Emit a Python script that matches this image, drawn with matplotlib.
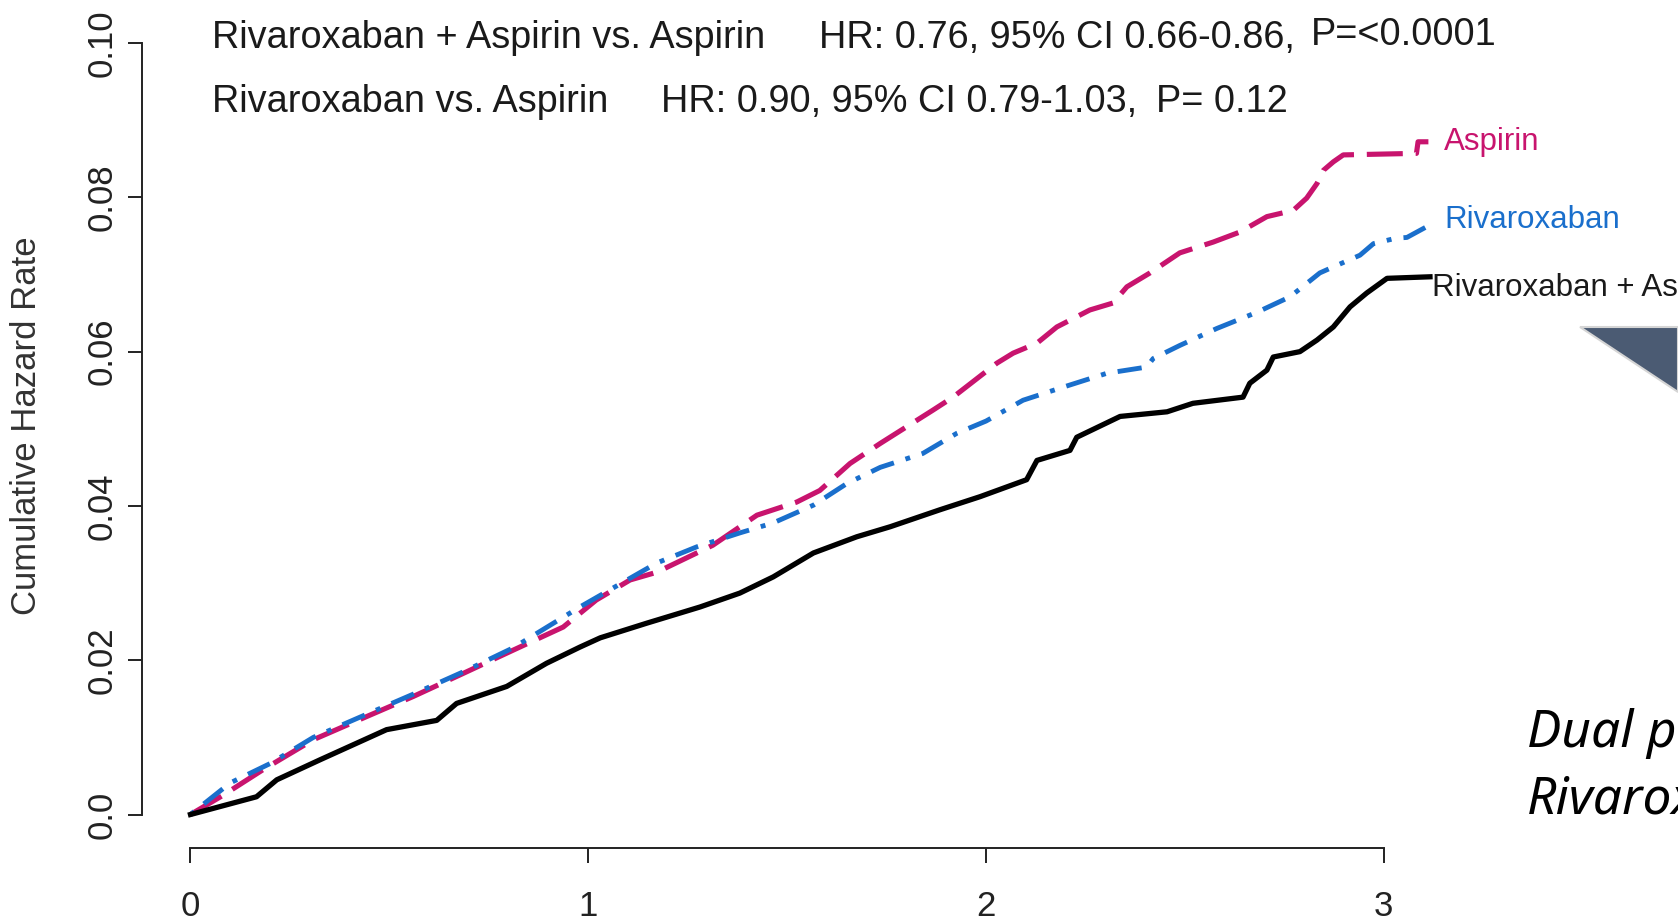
import matplotlib
matplotlib.use("Agg")
import matplotlib.pyplot as plt
from matplotlib.patches import Polygon

# Cumulative hazard curves (years, rate)
asp_x = [0, 0.082, 0.182, 0.309, 0.443, 0.56, 0.686, 0.811, 0.937, 1.02, 1.105, 1.172,
         1.313, 1.424, 1.524, 1.582, 1.658, 1.734, 1.866, 1.917, 2.027, 2.068, 2.128,
         2.178, 2.261, 2.319, 2.354, 2.412, 2.487, 2.571, 2.638, 2.706, 2.772, 2.806,
         2.832, 2.848, 2.873, 2.898, 3.082, 3.086, 3.112]
asp_y = [0, 0.0025, 0.0058, 0.0097, 0.0127, 0.0153, 0.0183, 0.0213, 0.0243, 0.0278,
         0.0304, 0.0314, 0.0349, 0.0388, 0.0405, 0.042, 0.0455, 0.0481, 0.0524, 0.0541,
         0.0585, 0.0598, 0.0611, 0.0632, 0.0654, 0.0663, 0.0684, 0.0702, 0.0728, 0.0742,
         0.0755, 0.0775, 0.0783, 0.0799, 0.0818, 0.0835, 0.0846, 0.0855, 0.0857, 0.0872,
         0.0872]

riva_x = [0, 0.1, 0.2, 0.309, 0.443, 0.56, 0.686, 0.811, 0.979, 1.172, 1.273, 1.381,
          1.465, 1.566, 1.65, 1.734, 1.841, 1.926, 2.0, 2.093, 2.194, 2.304, 2.404,
          2.42, 2.487, 2.58, 2.681, 2.764, 2.839, 2.865, 2.94, 2.974, 3.03, 3.058, 3.108]
riva_y = [0, 0.0041, 0.0066, 0.0100, 0.0130, 0.0156, 0.0185, 0.0216, 0.0269, 0.0326,
          0.0347, 0.0365, 0.0378, 0.0401, 0.0429, 0.045, 0.0468, 0.0494, 0.051, 0.0537,
          0.0554, 0.0572, 0.058, 0.0591, 0.0608, 0.063, 0.0651, 0.0671, 0.0702, 0.0708,
          0.0725, 0.074, 0.0747, 0.0748, 0.0762]

combo_x = [0, 0.166, 0.217, 0.326, 0.493, 0.619, 0.669, 0.795, 0.895, 0.979, 1.03,
           1.147, 1.281, 1.381, 1.465, 1.566, 1.675, 1.759, 1.884, 1.985, 2.102, 2.128,
           2.211, 2.228, 2.337, 2.455, 2.52, 2.646, 2.663, 2.706, 2.722, 2.789, 2.832,
           2.873, 2.915, 2.957, 3.008, 3.116]
combo_y = [0, 0.0023, 0.0045, 0.0071, 0.011, 0.0122, 0.0144, 0.0166, 0.0196, 0.0217,
           0.0229, 0.0248, 0.0269, 0.0287, 0.0308, 0.0339, 0.036, 0.0373, 0.0395, 0.0412,
           0.0434, 0.0459, 0.0472, 0.0489, 0.0516, 0.0522, 0.0533, 0.0541, 0.0559, 0.0576,
           0.0593, 0.06, 0.0615, 0.0632, 0.0658, 0.0676, 0.0695, 0.0697]

x_ticks = [0, 1, 2, 3]
y_ticks = [0.0, 0.02, 0.04, 0.06, 0.08, 0.10]
y_tick_labels = ["0.0", "0.02", "0.04", "0.06", "0.08", "0.10"]

MAGENTA = "#C8146E"
BLUE = "#1A6FCC"
W, H = 1678, 921

plt.rcParams["font.family"] = ["Liberation Sans", "DejaVu Sans"]

fig = plt.figure(figsize=(W / 100, H / 100), dpi=100)
# axes box: left spine at px 142, bottom spine at px 848
ax = fig.add_axes([142 / W, (H - 848) / H, (1500 - 142) / W, (848 - 30) / H])
ax.set_xlim(-0.1219, 3.292)
ax.set_ylim(-0.004342, 0.10169)

ax.plot(asp_x, asp_y, color=MAGENTA, lw=3.7, dashes=(7, 2.5), clip_on=False)
ax.plot(riva_x, riva_y, color=BLUE, lw=3.5, dashes=(1, 2.5, 5, 2.5), clip_on=False)
ax.plot(combo_x, combo_y, color="black", lw=3.8, clip_on=False)

# R-style axes
for side in ("top", "right"):
    ax.spines[side].set_visible(False)
ax.spines["left"].set_bounds(0, 0.10)
ax.spines["bottom"].set_bounds(0, 3)
for side in ("left", "bottom"):
    ax.spines[side].set_linewidth(1.4)
    ax.spines[side].set_color("#222222")

ax.set_xticks(x_ticks)
ax.set_xticklabels([str(t) for t in x_ticks])
ax.set_yticks(y_ticks)
ax.set_yticklabels(y_tick_labels, rotation=90, va="center")
ax.tick_params(axis="x", length=11, width=1.4, pad=19, labelsize=25, colors="#222222")
ax.tick_params(axis="y", length=10, width=1.4, pad=7, labelsize=25, colors="#222222")

ax.set_ylabel("Cumulative Hazard Rate", fontsize=25, color="#333333")
ax.yaxis.label.set_va("center")
ax.yaxis.set_label_coords((27 - 142) / 1358, (848 - 426) / 818)

# statistics text
txt = dict(fontsize=27.3, color="#1a1a1a", va="center")
ax.text(0.054, 0.1007, "Rivaroxaban + Aspirin vs. Aspirin", **txt)
ax.text(1.58, 0.1007, "HR: 0.76, 95% CI 0.66-0.86,", **txt)
ax.text(2.817, 0.1010, "P=<0.0001", **txt)
ax.text(0.054, 0.0924, "Rivaroxaban vs. Aspirin", **txt)
ax.text(1.183, 0.0924, "HR: 0.90, 95% CI 0.79-1.03,", **txt)
ax.text(2.427, 0.0924, "P= 0.12", **txt)

# curve labels
ax.text(3.151, 0.0872, "Aspirin", color=MAGENTA, fontsize=22.5, va="center")
ax.text(3.151, 0.0770, "Rivaroxaban", color=BLUE, fontsize=22.5, va="center")
ax.text(3.121, 0.0682, "Rivaroxaban + Aspirin", color="#1a1a1a", fontsize=22.5, va="center")

# slide decoration at the right edge (cut off by the crop, as in the slide)
tri = Polygon([(1580 / W, 1 - 327 / H), (1.0, 1 - 327 / H), (1.0, 1 - 392 / H)],
              closed=True, transform=fig.transFigure, facecolor="#4B5B73",
              edgecolor="#D5D5D5", lw=1.5)
fig.patches.append(tri)
fig.text(1527 / W, 1 - 733 / H, "Dual pathway", fontsize=37, style="italic",
         family=["Noto Sans", "DejaVu Sans"], va="center", color="black")
fig.text(1527 / W, 1 - 800 / H, "Rivaroxaban", fontsize=37, style="italic",
         family=["Noto Sans", "DejaVu Sans"], va="center", color="black")

fig.savefig("out.png", dpi=100)
